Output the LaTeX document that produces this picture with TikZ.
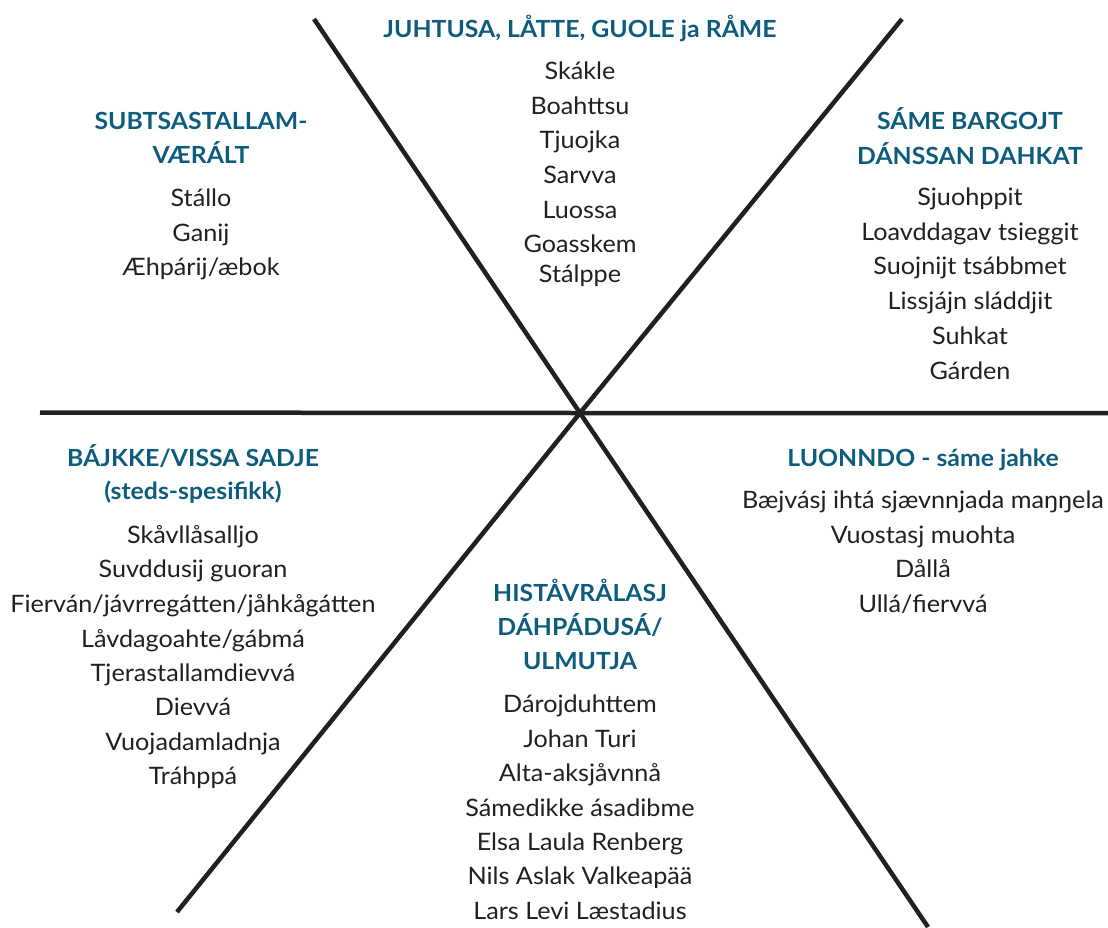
\documentclass[tikz,border=0pt]{standalone}
\usepackage{fontspec}
\setmainfont{Lato}[FakeStretch=1.05]
\definecolor{head}{HTML}{0D5C7D}
\definecolor{ink}{HTML}{231F20}
\begin{document}
\begin{tikzpicture}[x=1pt,y=-1pt,
  spoke/.style={line width=4.5pt,draw=ink},
  hd/.style={anchor=base,inner sep=0pt,text=head,font=\fontsize{23.6}{28}\selectfont\bfseries},
  item/.style={anchor=base,inner sep=0pt,text=ink,font=\fontsize{24}{28}\selectfont}]
\useasboundingbox (0,0) rectangle (1108,927);
% spokes
\coordinate (c) at (580,413);
\coordinate (h1) at (40,412.5);
\coordinate (h2) at (1108,413);
\coordinate (d1) at (314,19);
\coordinate (d2) at (928,927);
\coordinate (a1) at (902,19);
\coordinate (a2) at (177,912);
\draw[spoke] (h1) -- (c) -- (h2);
\draw[spoke] (d1) -- (c) -- (d2);
\draw[spoke] (a1) -- (c) -- (a2);
% top
\node[hd] (th) at (580,37) {JUHTUSA, LÅTTE, GUOLE ja RÅME};
\foreach \y/\t [count=\i] in {79/{Skákle},114/{Boahttsu},148/{Tjuojka},183/{Sarvva},218/{Luossa},252/{Goasskem},282/{Stálppe}}
  \node[item] (t\i) at (580,\y) {\t};
% top left
\node[hd] (lh1) at (201,129) {SUBTSASTALLAM-};
\node[hd] (lh2) at (201,163) {VÆRÁLT};
\foreach \y/\t [count=\i] in {206/{Stállo},241/{Ganij},275/{Æhpárij/æbok}}
  \node[item] (l\i) at (201,\y) {\t};
% top right
\node[hd] (rh1) at (970,129) {SÁME BARGOJT};
\node[hd] (rh2) at (970,164) {DÁNSSAN DAHKAT};
\foreach \y/\t [count=\i] in {205/{Sjuohppit},240/{Loavddagav tsieggit},274/{Suojnijt tsábbmet},309/{Lissjájn sláddjit},344/{Suhkat},379/{Gárden}}
  \node[item] (r\i) at (970,\y) {\t};
% bottom left
\node[hd] (blh1) at (193,466) {BÁJKKE/VISSA SADJE};
\node[hd] (blh2) at (193,499) {(steds-spesifikk)};
\foreach \y/\t [count=\i] in {543/{Skåvllåsalljo},577/{Suvddusij guoran},612/{Fierván/jávrregátten/jåhkågátten},647/{Låvdagoahte/gábmá},681/{Tjerastallamdievvá},715/{Dievvá},750/{Vuojadamladnja},784/{Tráhppá}}
  \node[item] (bl\i) at (193,\y) {\t};
% bottom right
\node[hd] (brh) at (923,466) {LUONNDO - sáme jahke};
\foreach \y/\t [count=\i] in {508/{Bæjvásj ihtá sjævnnjada maŋŋela},543/{Vuostasj muohta},577/{Dållå},612/{Ullá/fiervvá}}
  \node[item] (br\i) at (923,\y) {\t};
% bottom middle
\node[hd] (bh1) at (580,601) {HISTÅVRÅLASJ};
\node[hd] (bh2) at (580,635) {DÁHPÁDUSÁ/};
\node[hd] (bh3) at (580,669) {ULMUTJA};
\foreach \y/\t [count=\i] in {712/{Dárojduhttem},747/{Johan Turi},781/{Alta-aksjåvnnå},816/{Sámedikke ásadibme},850/{Elsa Laula Renberg},884/{Nils Aslak Valkeapää},919/{Lars Levi Læstadius}}
  \node[item] (b\i) at (580,\y) {\t};
\end{tikzpicture}
\end{document}
